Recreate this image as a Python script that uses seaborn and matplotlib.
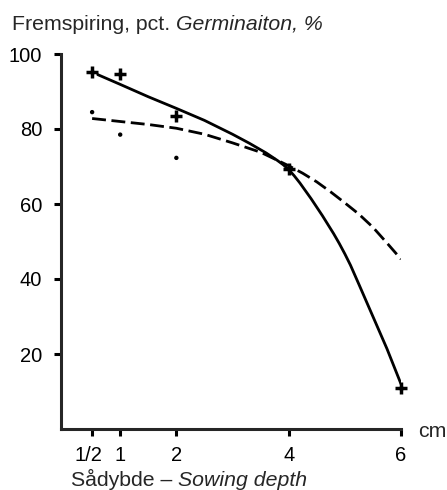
import matplotlib
matplotlib.use("Agg")
import matplotlib.pyplot as plt
import matplotlib.transforms as mtransforms
import seaborn as sns

# Observed points
depth = [0.5, 1, 2, 4, 6]
germ_plus = [95.2, 94.6, 83.5, 69.3, 10.9]
depth_dot = [0.5, 1, 2]
germ_dot = [84.5, 78.5, 72.3]

# Fitted curves
solid_x = [0.6, 1.0, 1.5, 2.0, 2.5, 3.0, 3.3, 3.6, 3.8, 3.9, 4.0, 4.1, 4.2,
           4.4, 4.6, 4.8, 4.9, 5.0, 5.1, 5.25, 5.5, 5.75, 6.0]
solid_y = [94.5, 91.9, 88.6, 85.5, 82.3, 78.6, 76.2, 73.6, 71.6, 70.5, 69.2,
           67.5, 65.6, 61.4, 56.9, 52.1, 49.5, 46.7, 43.7, 38.6, 30.0, 21.4,
           12.0]
dash_x = [0.5, 1.0, 1.5, 2.0, 2.5, 3.0, 3.5, 4.0, 4.25, 4.5, 4.75, 5.0, 5.25,
          5.5, 5.75, 6.0]
dash_y = [82.8, 82.0, 81.2, 80.2, 78.6, 76.3, 73.8, 70.2, 68.2, 65.9, 63.2,
          60.3, 57.3, 53.8, 49.6, 45.3]

xticks = [0.5, 1, 2, 4, 6]
xticklabels = ["1/2", "1", "2", "4", "6"]
yticks = [20, 40, 60, 80, 100]

sns.set_style("ticks")
plt.rcParams['font.family'] = ['Liberation Sans', 'DejaVu Sans']

FS = 15.3
fig = plt.figure(figsize=(4.47, 4.90), dpi=100)
ax = fig.add_axes([61/447, 61/490, 340/447, 375/490])

sns.lineplot(x=solid_x, y=solid_y, ax=ax, color="black", lw=2.0, sort=True)
sns.lineplot(x=dash_x, y=dash_y, ax=ax, color="black", lw=2.0, sort=True,
             linestyle=(0, (5, 2)))
ax.plot(depth, germ_plus, linestyle="none", marker="+", ms=8, mew=2.5,
        color="black", clip_on=False)
sns.scatterplot(x=depth_dot, y=germ_dot, ax=ax, color="black", s=10,
                edgecolor="none", clip_on=False)

ax.set_xlim(-0.054, 6)
ax.set_ylim(0, 100)
ax.set_xticks(xticks)
ax.set_xticklabels(xticklabels)
ax.set_yticks(yticks)
ax.set_yticklabels([str(v) for v in yticks])

for s in ["top", "right"]:
    ax.spines[s].set_visible(False)
for s in ["left", "bottom"]:
    ax.spines[s].set_linewidth(2.2)
ax.tick_params(axis="both", length=5, width=2.2, labelsize=14.5, pad=7.5,
               colors="black")
ax.tick_params(axis="y", pad=8.5)
ax.set_xlabel("")
ax.set_ylabel("")

# slight left shift of the "1/2" label as in the original
lbl = ax.get_xticklabels()[0]
lbl.set_transform(lbl.get_transform() +
                  mtransforms.ScaledTranslation(-4/100, 0, fig.dpi_scale_trans))

t1 = fig.text(12/447, 1 - 30/490, "Fremspiring, pct. ", fontsize=FS,
              ha="left", va="baseline")
fig.canvas.draw()
bb = t1.get_window_extent()
fig.text(bb.x1 / fig.bbox.width, 1 - 30/490, "Germinaiton, %", fontsize=FS,
         ha="left", va="baseline", style="italic")

t2 = fig.text(71/447, 1 - 486/490, "Sådybde – ", fontsize=FS,
              ha="left", va="baseline")
fig.canvas.draw()
bb2 = t2.get_window_extent()
fig.text(bb2.x1 / fig.bbox.width, 1 - 486/490, "Sowing depth", fontsize=FS,
         ha="left", va="baseline", style="italic")

fig.text(418/447, 1 - 437/490, "cm", fontsize=FS, ha="left", va="baseline")

fig.savefig("out.png", dpi=100)
